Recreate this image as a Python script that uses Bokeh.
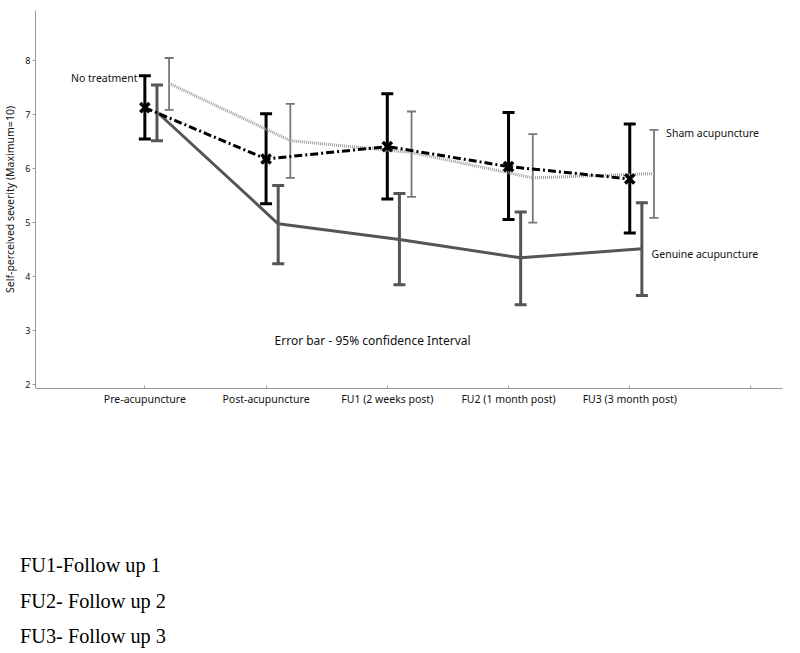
from bokeh.plotting import figure
from bokeh.layouts import column
from bokeh.models import (ColumnDataSource, Whisker, TeeHead, Label, FixedTicker,
                          Range1d, Div)
from bokeh.embed import file_html
from bokeh.resources import INLINE

categories = ["Pre-acupuncture", "Post-acupuncture", "FU1 (2 weeks post)",
              "FU2 (1 month post)", "FU3 (3 month post)"]
none_mean = [7.13, 6.18, 6.41, 6.04, 5.81]
none_lo = [6.55, 5.35, 5.44, 5.06, 4.81]
none_hi = [7.72, 7.02, 7.39, 7.04, 6.83]
gen_mean = [7.05, 4.98, 4.69, 4.35, 4.52]
gen_lo = [6.52, 4.24, 3.85, 3.48, 3.65]
gen_hi = [7.55, 5.69, 5.54, 5.20, 5.37]
sham_mean = [7.58, 6.52, 6.30, 5.83, 5.91]
sham_lo = [7.09, 5.83, 5.48, 5.00, 5.09]
sham_hi = [8.05, 7.20, 7.06, 6.64, 6.72]
y_ticks = [2, 3, 4, 5, 6, 7, 8]
notes = ["FU1-Follow up 1", "FU2- Follow up 2", "FU3- Follow up 3"]

FONT = "Noto Sans"
pos = [i + 1 for i in range(len(categories))]
off = {"none": 0.0, "gen": 0.1, "sham": 0.2}

p = figure(width=784, height=420, output_backend="svg", toolbar_location=None,
           x_range=Range1d(0.098, 6.26), y_range=Range1d(1.93, 8.93),
           min_border_left=30, min_border_right=2, min_border_top=10,
           min_border_bottom=32)
p.outline_line_color = None
p.grid.visible = False
p.background_fill_color = "white"

def xs(key):
    return [x + off[key] for x in pos]

# Sham (light gray dotted)
src_s = ColumnDataSource(dict(x=xs("sham"), m=sham_mean, lo=sham_lo, hi=sham_hi))
p.line("x", "m", source=src_s, line_color="#a0a0a0", line_width=3, line_dash="1 1")
p.add_layout(Whisker(source=src_s, base="x", lower="lo", upper="hi",
                     line_color="#777777", line_width=1.8,
                     upper_head=TeeHead(size=9, line_color="#777777", line_width=1.8),
                     lower_head=TeeHead(size=9, line_color="#777777", line_width=1.8)))

# Genuine (dark gray solid)
src_g = ColumnDataSource(dict(x=xs("gen"), m=gen_mean, lo=gen_lo, hi=gen_hi))
p.line("x", "m", source=src_g, line_color="#555555", line_width=3)
p.add_layout(Whisker(source=src_g, base="x", lower="lo", upper="hi",
                     line_color="#555555", line_width=3,
                     upper_head=TeeHead(size=12, line_color="#555555", line_width=3),
                     lower_head=TeeHead(size=12, line_color="#555555", line_width=3)))

# No treatment (black dash-dot)
src_n = ColumnDataSource(dict(x=xs("none"), m=none_mean, lo=none_lo, hi=none_hi))
p.line("x", "m", source=src_n, line_color="black", line_width=3, line_dash="8 3 2 3")
p.add_layout(Whisker(source=src_n, base="x", lower="lo", upper="hi",
                     line_color="black", line_width=3,
                     upper_head=TeeHead(size=12, line_color="black", line_width=3),
                     lower_head=TeeHead(size=12, line_color="black", line_width=3)))
p.scatter("x", "m", source=src_n, marker="x", size=13, line_color="black", line_width=3.5)

# Axes
p.xaxis.ticker = FixedTicker(ticks=pos + [pos[-1] + 1])
p.xaxis.major_label_overrides = {float(x): c for x, c in zip(pos, categories)} | {
    x: c for x, c in zip(pos, categories)} | {pos[-1] + 1: ""}
p.xaxis.minor_tick_line_color = None
p.xaxis.major_tick_in = 3
p.xaxis.major_tick_out = 0
p.xaxis.axis_line_color = "#999999"
p.xaxis.major_tick_line_color = "#999999"
p.xaxis.major_label_text_font = FONT
p.xaxis.major_label_text_font_size = "10.5px"
p.xaxis.major_label_text_color = "#111111"
p.xaxis.major_label_standoff = 3

p.yaxis.ticker = FixedTicker(ticks=y_ticks)
p.yaxis.minor_tick_line_color = None
p.yaxis.major_tick_in = 0
p.yaxis.major_tick_out = 3
p.yaxis.axis_line_color = "#999999"
p.yaxis.major_tick_line_color = "#999999"
p.yaxis.major_label_text_font = FONT
p.yaxis.major_label_text_font_size = "9px"
p.yaxis.major_label_text_color = "#111111"
p.yaxis.major_label_standoff = 2
p.yaxis.axis_label = "Self-perceived severity (Maximum=10)"
p.yaxis.axis_label_text_font = FONT
p.yaxis.axis_label_text_font_size = "10.5px"
p.yaxis.axis_label_text_font_style = "normal"
p.yaxis.axis_label_text_color = "#111111"
p.yaxis.axis_label_standoff = 5

# Annotations
p.add_layout(Label(x=pos[0] - 0.06, y=none_hi[0], text="No treatment",
                   text_align="right", text_baseline="middle", y_offset=-2,
                   text_font=FONT, text_font_size="10.5px", text_color="#111111"))
p.add_layout(Label(x=pos[-1] + off["sham"] + 0.1, y=sham_hi[-1], text="Sham acupuncture",
                   text_align="left", text_baseline="middle", y_offset=-3,
                   text_font=FONT, text_font_size="10.5px", text_color="#111111"))
p.add_layout(Label(x=pos[-1] + off["gen"] + 0.08, y=gen_mean[-1], text="Genuine acupuncture",
                   text_align="left", text_baseline="middle", y_offset=-5,
                   text_font=FONT, text_font_size="10.5px", text_color="#111111"))
p.add_layout(Label(x=2.07, y=2.81, text="Error bar - 95% confidence Interval",
                   text_align="left", text_baseline="middle",
                   text_font=FONT, text_font_size="12px", text_color="#111111"))

# Footnotes
notes_html = "<br>".join(notes)
d = Div(text=notes_html, width=784, height=225,
        styles={"font-family": "'Liberation Serif', serif", "font-size": "20.3px",
                "line-height": "35.5px", "color": "black",
                "padding-top": "123px", "padding-left": "15px",
                "box-sizing": "border-box"})

open("out.html", "w").write(file_html(column(p, d, spacing=0), INLINE))
